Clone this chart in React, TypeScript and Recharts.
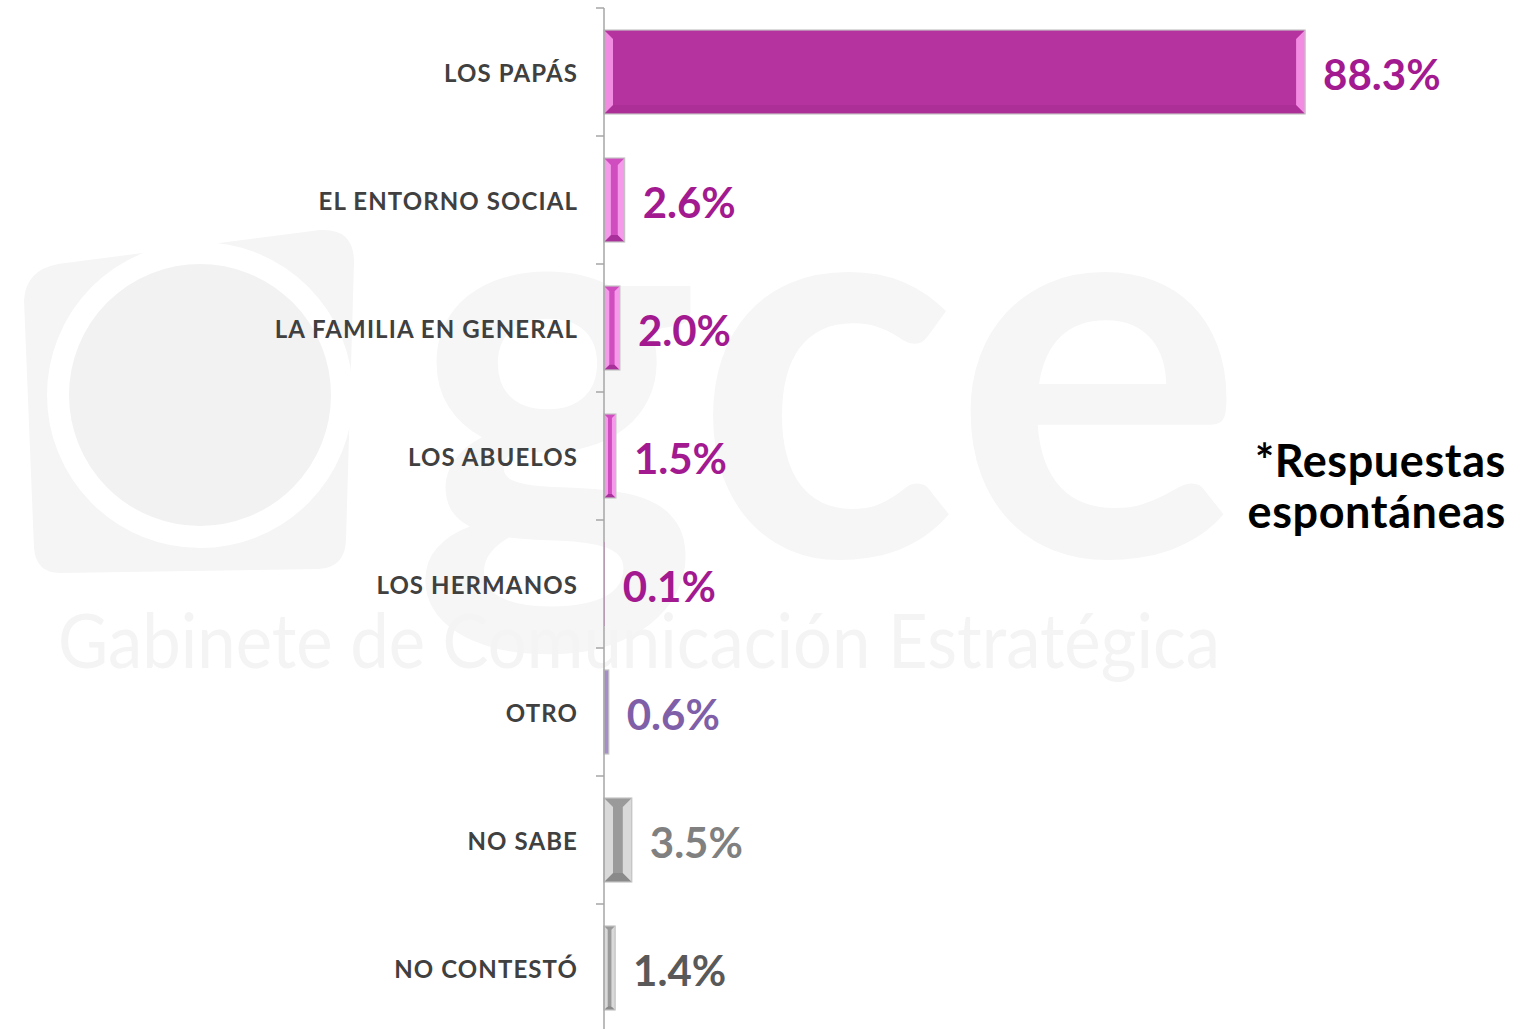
import React from 'react';
import { BarChart, Bar, XAxis, YAxis, LabelList } from 'recharts';

const categories = [
  'LOS PAPÁS',
  'EL ENTORNO SOCIAL',
  'LA FAMILIA EN GENERAL',
  'LOS ABUELOS',
  'LOS HERMANOS',
  'OTRO',
  'NO SABE',
  'NO CONTESTÓ',
];
const values = [88.3, 2.6, 2.0, 1.5, 0.1, 0.6, 3.5, 1.4];

// per-bar colours: [face, bevel highlight, bevel shade, label]
const palette = [
  ['#B5339F', '#F28CE2', '#AC2E97', '#A3198F'],
  ['#CF4DBE', '#F59AEA', '#A8309A', '#A3198F'],
  ['#CF4DBE', '#F59AEA', '#A8309A', '#A3198F'],
  ['#CF4DBE', '#F59AEA', '#A8309A', '#A3198F'],
  ['#CF4DBE', '#F59AEA', '#A8309A', '#A3198F'],
  ['#A78DCB', '#A78DCB', '#A78DCB', '#7F5FA8'],
  ['#9A9A9A', '#D9D9D9', '#8A8A8A', '#808080'],
  ['#9A9A9A', '#D9D9D9', '#8A8A8A', '#595959'],
];

const data = categories.map((name, i) => ({ name, value: values[i], idx: i }));

const FONT = 'Lato, "DejaVu Sans", sans-serif';
const CHART_H = 1040;
const MARGIN = { top: 8, right: 130, bottom: 8, left: 0 };
const TICK_SIZE = 8;
const TICK_MARGIN = 18;
const AXIS_COLOR = '#A6A6A6';
const BAND = (CHART_H - MARGIN.top - MARGIN.bottom) / categories.length;

const BevelBar = (props: any) => {
  const { x, y, width, height, payload } = props;
  if (!width || width <= 0) return null;
  const [face, light, shade] = palette[payload.idx];
  const b = Math.min(9, width / 3, height / 3);
  const w = width;
  const h = height;
  return (
    <g>
      <rect x={x} y={y} width={w} height={h} fill={face} />
      <polygon points={`${x},${y + h} ${x + w},${y + h} ${x + w - b},${y + h - b} ${x + b},${y + h - b}`} fill={shade} />
      <polygon points={`${x},${y} ${x + b},${y + b} ${x + b},${y + h - b} ${x},${y + h}`} fill={light} />
      <polygon points={`${x + w},${y} ${x + w - b},${y + b} ${x + w - b},${y + h - b} ${x + w},${y + h}`} fill={light} />
      {width > 2 && (
        <rect x={x} y={y} width={w} height={h} fill="none" stroke="#C4C4C4" strokeWidth={1.2} />
      )}
    </g>
  );
};

// category label plus the boundary tick marks (ticks sit between categories)
const CategoryTick = (props: any) => {
  const { x, y, payload, index, visibleTicksCount } = props;
  const x1 = x + TICK_MARGIN;
  const x2 = x1 + TICK_SIZE;
  const isLast = index === visibleTicksCount - 1;
  return (
    <g>
      <line x1={x1} x2={x2} y1={y - BAND / 2} y2={y - BAND / 2} stroke={AXIS_COLOR} strokeWidth={1.5} />
      {isLast && (
        <line x1={x1} x2={x2} y1={y + BAND / 2} y2={y + BAND / 2} stroke={AXIS_COLOR} strokeWidth={1.5} />
      )}
      <text
        x={x}
        y={y + 4}
        textAnchor="end"
        dominantBaseline="middle"
        fontFamily={FONT}
        fontWeight="bold"
        fontSize={24}
        letterSpacing={1.1}
        fill="#404040"
      >
        {payload.value}
      </text>
    </g>
  );
};

const ValueLabel = (props: any) => {
  const { x, y, width, height, value, index } = props;
  return (
    <text
      x={x + width + 18}
      y={y + height / 2 + 7}
      fill={palette[index][3]}
      fontFamily={FONT}
      fontWeight="bold"
      fontSize={42}
      dominantBaseline="middle"
      textAnchor="start"
    >
      {value.toFixed(1)}%
    </text>
  );
};

const Watermark = () => (
  <svg width={1528} height={1029} style={{ position: 'absolute', left: 0, top: 0 }}>
    <path d="M24 300 Q26 270 58 264 L320 230 Q354 228 354 262 L346 540 Q345 568 318 569 L60 573 Q36 573 34 548 Z" fill="#F5F5F5" />
    <circle cx={200} cy={395} r={142} fill="#F2F2F2" stroke="#FFFFFF" strokeWidth={22} />
    <text x={412} y={556} fontFamily={FONT} fontWeight="bold" fontSize={545} fill="#F6F6F6">
      gce
    </text>
    <text x={58} y={668} fontFamily={FONT} fontSize={76} fill="#F4F4F4" textLength={1162} lengthAdjust="spacingAndGlyphs">
      Gabinete de  Comunicación  Estratégica
    </text>
  </svg>
);

export default function App() {
  return (
    <div style={{ position: 'absolute', left: 0, top: 0, width: 1528, height: 1029, overflow: 'hidden', background: '#fff' }}>
      <Watermark />
      <div style={{ position: 'absolute', left: 0, top: 0 }}>
        <BarChart
          width={1528}
          height={CHART_H}
          data={data}
          layout="vertical"
          margin={MARGIN}
          barCategoryGap={22}
        >
          <XAxis type="number" domain={[0, 100]} hide />
          <YAxis
            type="category"
            dataKey="name"
            width={604}
            tickSize={TICK_SIZE}
            tickMargin={TICK_MARGIN}
            tickLine={false}
            axisLine={{ stroke: AXIS_COLOR, strokeWidth: 1.5 }}
            tick={<CategoryTick />}
          />
          <Bar dataKey="value" shape={<BevelBar />} isAnimationActive={false}>
            <LabelList dataKey="value" content={<ValueLabel />} />
          </Bar>
        </BarChart>
      </div>
      <div
        style={{
          position: 'absolute',
          right: 22,
          top: 435,
          textAlign: 'right',
          fontFamily: FONT,
          fontWeight: 'bold',
          fontSize: 45,
          letterSpacing: 0.6,
          lineHeight: '51px',
          color: '#000',
        }}
      >
        *Respuestas
        <br />
        espontáneas
      </div>
    </div>
  );
}
